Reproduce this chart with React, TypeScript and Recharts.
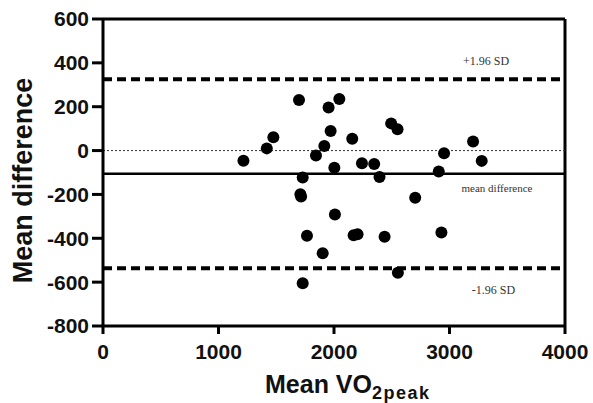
import { ScatterChart, Scatter, XAxis, YAxis, ReferenceLine, Label } from 'recharts';

// Bland-Altman: mean VO2peak vs mean difference
const meanVO2 = [1216, 1418, 1475, 1697, 1953, 2046, 1971, 2158, 2495, 2550, 3204, 1916, 1844, 2003, 2242, 2348, 2394, 2953, 3279, 2907, 1729, 1709, 1715, 2703, 2008, 1766, 2170, 2204, 2438, 2930, 1902, 2553, 1729];
const meanDiff = [-46, 10, 61, 231, 196, 235, 89, 54, 124, 97, 41, 21, -23, -78, -58, -61, -120, -12, -47, -95, -123, -199, -210, -215, -292, -388, -386, -382, -393, -374, -468, -557, -605];

const xTicks = [0, 1000, 2000, 3000, 4000];
const yTicks = [-800, -600, -400, -200, 0, 200, 400, 600];

const MEAN_LINE = -106;
const UPPER_SD = 325;
const LOWER_SD = -537;

const points = meanVO2.map((x, i) => ({ x, y: meanDiff[i] }));

const tickStyle = { fill: '#111', fontFamily: 'Liberation Sans, Arial, sans-serif', fontWeight: 'bold', fontSize: 21 };
const noteStyle = { fill: '#333', fontFamily: 'Liberation Serif, Times New Roman, serif', fontSize: 12 };

const Dot = (props: any) => <circle cx={props.cx} cy={props.cy} r={6} fill="#000" />;

// small text next to a horizontal reference line, measured from the right edge
const lineNote = (text: string, fromRight: number, dy: number, size = 12) => (props: any) => {
    const vb = props.viewBox;
    return (
        <text x={vb.x + vb.width - fromRight} y={vb.y + dy} textAnchor="middle" style={{ ...noteStyle, fontSize: size }}>
            {text}
        </text>
    );
};

const XTitle = (props: any) => {
    const vb = props.viewBox;
    return (
        <text x={vb.x + 162} y={vb.y + 67} style={{ fill: '#111', fontFamily: 'Liberation Sans, Arial, sans-serif', fontWeight: 'bold', fontSize: 25 }}>
            Mean VO
            <tspan dy={6} fontSize={18} letterSpacing={1.5}>2peak</tspan>
        </text>
    );
};

const YTitle = (props: any) => {
    const vb = props.viewBox;
    const cx = 31.5;
    const cy = vb.y + vb.height / 2 + 8;
    return (
        <text x={cx} y={cy} transform={`rotate(-90 ${cx} ${cy})`} textAnchor="middle"
            style={{ fill: '#111', fontFamily: 'Liberation Sans, Arial, sans-serif', fontWeight: 'bold', fontSize: 27 }}>
            Mean difference
        </text>
    );
};

const App = () => {
    return (
        <div style={{ width: 593, height: 403, background: '#fff' }}>
            <style>{`body { margin: 0; }`}</style>
            <ScatterChart width={593} height={403} margin={{ top: 19, right: 28, bottom: 0, left: 0 }}>
                <XAxis
                    type="number"
                    dataKey="x"
                    domain={[0, 4000]}
                    ticks={xTicks}
                    height={77}
                    axisLine={{ stroke: '#000', strokeWidth: 3 }}
                    tickLine={{ stroke: '#000', strokeWidth: 3 }}
                    tickSize={8}
                    tickMargin={10}
                    tick={tickStyle}
                    interval={0}
                >
                    <Label content={XTitle} />
                </XAxis>
                <YAxis
                    type="number"
                    dataKey="y"
                    domain={[-800, 600]}
                    ticks={yTicks}
                    width={103}
                    axisLine={{ stroke: '#000', strokeWidth: 3 }}
                    tickLine={{ stroke: '#000', strokeWidth: 3 }}
                    tickSize={11}
                    tickMargin={3}
                    tick={tickStyle}
                    interval={0}
                >
                    <Label content={YTitle} />
                </YAxis>
                <ReferenceLine y={600} stroke="#000" strokeWidth={3} />
                <ReferenceLine x={4000} stroke="#000" strokeWidth={3} />
                <ReferenceLine y={0} stroke="#333" strokeWidth={1} strokeDasharray="2 2" />
                <ReferenceLine y={UPPER_SD} stroke="#000" strokeWidth={4} strokeDasharray="9 5"
                    label={{ content: lineNote('+1.96 SD', 79, -14) }} />
                <ReferenceLine y={MEAN_LINE} stroke="#000" strokeWidth={2.5}
                    label={{ content: lineNote('mean difference', 68, 18.5, 11) }} />
                <ReferenceLine y={LOWER_SD} stroke="#000" strokeWidth={4} strokeDasharray="9 5"
                    label={{ content: lineNote('-1.96 SD', 71.5, 26) }} />
                <Scatter data={points} shape={Dot} isAnimationActive={false} />
            </ScatterChart>
        </div>
    );
};

export default App;
